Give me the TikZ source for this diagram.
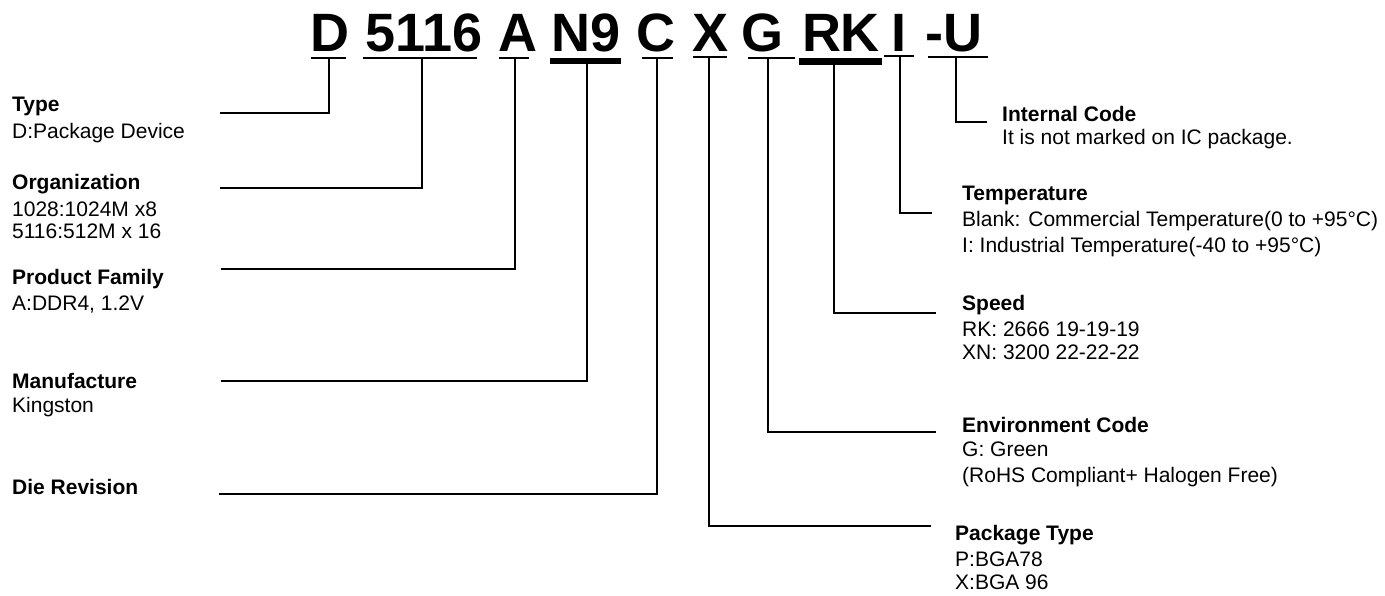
\documentclass[tikz,border=0pt]{standalone}
\usepackage{fontspec}
\setmainfont{Liberation Sans}
\begin{document}
\begin{tikzpicture}[x=1pt,y=-1pt,
  code/.style={font=\bfseries\fontsize{54}{60}\selectfont, inner sep=0pt, anchor=base},
  lbl/.style={font=\bfseries\fontsize{21}{25}\selectfont, inner sep=0pt, anchor=base west},
  txt/.style={font=\fontsize{21}{25}\selectfont, inner sep=0pt, anchor=base west},
  ul/.style={line width=2pt},
  ulthick/.style={line width=6.5pt},
  conn/.style={line width=2pt}]
\fill[white] (0,0) rectangle (1385,596);
\useasboundingbox (0,0) rectangle (1385,596);

% part number groups
\node[code] (cD)  at (329.5,52) {D};
\node[code] (cOrg) at (424,52) {5116};
\node[code] (cA)  at (518,52) {A};
\node[code] (cN9) at (586.5,52) {N9};
\node[code] (cC)  at (655.5,52) {C};
\node[code] (cX)  at (711,52) {X};
\node[code] (cG)  at (762.5,52) {G};
\node[code] (cRK) at (841,52) {RK};
\node[code] (cI)  at (899,52) {I};
\node[code] (cU)  at (953.5,52) {-U};

% underlines
\draw[ul] (311,58) -- (346,58);
\draw[ul] (363,58) -- (477,58);
\draw[ul] (499,58) -- (529,58);
\draw[ulthick] (550,61) -- (621,61);
\draw[ul] (642,58) -- (673,58);
\draw[ul] (693,57) -- (727,57);
\draw[ul] (748,58) -- (795,58);
\draw[ulthick] (799,61.5) -- (882,61.5);
\draw[ul] (884,56) -- (914,56);
\draw[ul] (928,57) -- (988,57);

% connector start points (underlines)
\coordinate (uD)   at (329,58);
\coordinate (uOrg) at (422,58);
\coordinate (uA)   at (515,58);
\coordinate (uN9)  at (587,64);
\coordinate (uC)   at (657,58);
\coordinate (uX)   at (709,57);
\coordinate (uG)   at (768,58);
\coordinate (uRK)  at (834,65);
\coordinate (uI)   at (900,56);
\coordinate (uU)   at (956,57);

% connector end points
\coordinate (eType) at (220,113);
\coordinate (eOrg)  at (220,188);
\coordinate (eFam)  at (221,269);
\coordinate (eMan)  at (221,381);
\coordinate (eDie)  at (219,494);
\coordinate (ePkg)  at (931,526);
\coordinate (eEnv)  at (936,432);
\coordinate (eSpd)  at (936,313);
\coordinate (eTmp)  at (932,213);
\coordinate (eInt)  at (987,122);

\draw[conn] (uD)   |- (eType);
\draw[conn] (uOrg) |- (eOrg);
\draw[conn] (uA)   |- (eFam);
\draw[conn] (uN9)  |- (eMan);
\draw[conn] (uC)   |- (eDie);
\draw[conn] (uX)   |- (ePkg);
\draw[conn] (uG)   |- (eEnv);
\draw[conn] (uRK)  |- (eSpd);
\draw[conn] (uI)   |- (eTmp);
\draw[conn] (uU)   |- (eInt);

% left labels
\node[lbl] (tType1) at (12,112) {Type};
\node[txt] (tType2) at (12,139) {D:Package Device};
\node[lbl] (tOrg1) at (12,190) {Organization};
\node[txt] (tOrg2) at (12,217) {1028:1024M x8};
\node[txt] (tOrg3) at (12,239) {5116:512M x 16};
\node[lbl] (tFam1) at (12,284) {Product Family};
\node[txt] (tFam2) at (12,310) {A:DDR4, 1.2V};
\node[lbl] (tMan1) at (12,388) {Manufacture};
\node[txt] (tMan2) at (12,412) {Kingston};
\node[lbl] (tDie1) at (12,494) {Die Revision};

% right labels
\node[lbl] (tInt1) at (1002,122) {Internal Code};
\node[txt] (tInt2) at (1002,145) {It is not marked on IC package.};
\node[lbl] (tTmp1) at (962,201) {Temperature};
\node[txt] (tTmp2) at (962,227) {Blank: Commercial Temperature(0 to +95°C)};
\node[txt] (tTmp3) at (962,253) {I: Industrial Temperature(-40 to +95°C)};
\node[lbl] (tSpd1) at (962,310) {Speed};
\node[txt] (tSpd2) at (962,336) {RK: 2666 19-19-19};
\node[txt] (tSpd3) at (962,359) {XN: 3200 22-22-22};
\node[lbl] (tEnv1) at (962,432) {Environment Code};
\node[txt] (tEnv2) at (962,456) {G: Green};
\node[txt] (tEnv3) at (962,482) {(RoHS Compliant+ Halogen Free)};
\node[lbl] (tPkg1) at (955,540) {Package Type};
\node[txt] (tPkg2) at (955,566) {P:BGA78};
\node[txt] (tPkg3) at (955,589) {X:BGA 96};
\end{tikzpicture}
\end{document}
